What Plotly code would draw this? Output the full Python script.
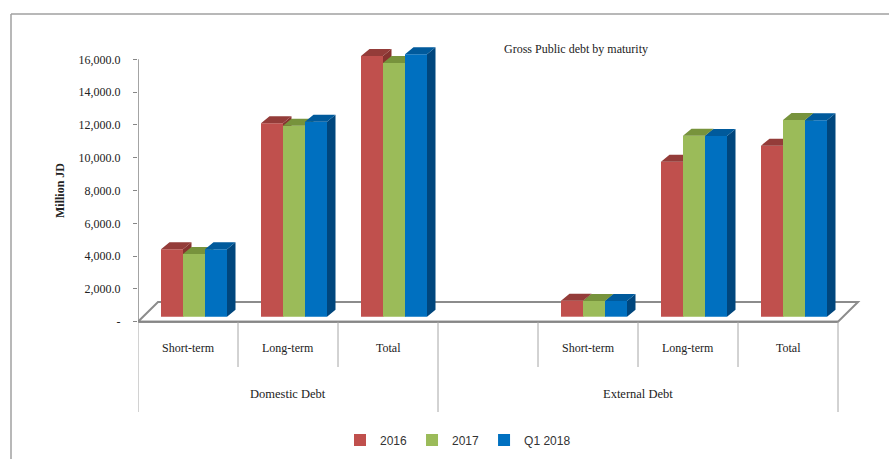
import plotly.graph_objects as go

# ---------------- data ----------------
categories = ["Short-term", "Long-term", "Total", "", "Short-term", "Long-term", "Total"]
group_names = ["Domestic Debt", "External Debt"]
group_spans = [(0, 2), (3, 6)]          # category index spans of each group
series_names = ["2016", "2017", "Q1 2018"]
values_2016 = [4110, 11790, 15900, None, 980, 9450, 10430]
values_2017 = [3820, 11650, 15470, None, 960, 11040, 12000]
values_q1_2018 = [4110, 11890, 16000, None, 960, 11020, 11980]
y_tickvals = [0, 2000, 4000, 6000, 8000, 10000, 12000, 14000, 16000]
y_ticktext = ["-", "2,000.0", "4,000.0", "6,000.0", "8,000.0", "10,000.0",
              "12,000.0", "14,000.0", "16,000.0"]
title_text = "Gross Public debt by maturity"
y_title = "Million JD"

# ---------------- styles / geometry ----------------
W, H = 889, 459
ML, MR, MT, MB = 138, 19, 14, 0
plot_w = W - ML - MR
plot_h = H - MT - MB
X_PER_PX = 1 / 100.0
Y_PER_PX = 1000 / 16.4
ZERO_PX = 321.7
y_top = (ZERO_PX - MT) * Y_PER_PX
y_bot = -(H - MB - ZERO_PX) * Y_PER_PX
x_range = [-0.5, -0.5 + plot_w * X_PER_PX]

def ydata(px):
    return (ZERO_PX - px) * Y_PER_PX

def xpaper(px):
    return (px - ML) / plot_w

def ypaper(px):
    return (H - MB - px) / plot_h

BASE = 5 * Y_PER_PX
DX = 8.5 * X_PER_PX
DY = 7 * Y_PER_PX
BAR_W = 0.22
offsets = [-0.27, -0.05, 0.17]
front_colors = ["#C0504D", "#9BBB59", "#0070C0"]
top_colors = ["#943C39", "#77933C", "#005A9C"]
side_colors = ["#86332F", "#6A8534", "#00467D"]
serif = "Liberation Serif"
sans = "Liberation Sans"
gray = "#868686"
light = "#A6A6A6"

all_values = [values_2016, values_2017, values_q1_2018]

fig = go.Figure()

for i, (name, vals) in enumerate(zip(series_names, all_values)):
    xa = "x" if i == 0 else f"x{i+1}"
    ya = "y" if i == 0 else f"y{i+1}"
    xs = [k for k, v in enumerate(vals) if v is not None]
    ys = [v for v in vals if v is not None]
    fig.add_trace(go.Bar(
        x=xs, y=ys, base=BASE, width=BAR_W, offset=offsets[i], name=name,
        marker=dict(color=front_colors[i], line=dict(width=0)),
        xaxis=xa, yaxis=ya, showlegend=True))
    tx, ty, sx, sy = [], [], [], []
    for k, v in zip(xs, ys):
        xl = k + offsets[i]
        xr = xl + BAR_W
        t = BASE + v
        tx += [xl, xl + DX, xr + DX, xr, xl, None]
        ty += [t, t + DY, t + DY, t, t, None]
        sx += [xr, xr, xr + DX, xr + DX, xr, None]
        sy += [BASE, t, t + DY, BASE + DY, BASE, None]
    fig.add_trace(go.Scatter(
        x=sx, y=sy, mode="lines", fill="toself", fillcolor=side_colors[i],
        line=dict(width=0, color=side_colors[i]), hoverinfo="skip",
        showlegend=False, xaxis=xa, yaxis=ya))
    fig.add_trace(go.Scatter(
        x=tx, y=ty, mode="lines", fill="toself", fillcolor=top_colors[i],
        line=dict(width=0, color=top_colors[i]), hoverinfo="skip",
        showlegend=False, xaxis=xa, yaxis=ya))

shapes = []
n = len(categories)
floor_depth = ydata(302)
floor_dx = 20 * X_PER_PX
# floor
shapes.append(dict(type="path", xref="x", yref="y", layer="below",
                   path=f"M-0.5,0 L{n-0.5},0 L{n-0.5+floor_dx},{floor_depth} "
                        f"L{-0.5+floor_dx},{floor_depth} Z",
                   fillcolor="white", line=dict(color="#8C8C8C", width=2)))
# y axis line
shapes.append(dict(type="line", xref="x", yref="y", x0=-0.5, x1=-0.5,
                   y0=0, y1=y_tickvals[-1], line=dict(color=gray, width=1.5)))
# category axis line
shapes.append(dict(type="line", xref="x", yref="y", x0=-0.5, x1=n - 0.5,
                   y0=0, y1=0, line=dict(color=gray, width=2)))
# category tick lines
group_edges = set()
for a, b in group_spans:
    group_edges.add(a - 0.5)
    group_edges.add(b + 0.5)
for k in range(n + 1):
    xv = k - 0.5
    y1 = ydata(412) if xv in group_edges else ydata(367)
    shapes.append(dict(type="line", xref="x", yref="y", x0=xv, x1=xv,
                       y0=0, y1=y1, line=dict(color=light, width=1)))
# outer chart border (top and left)
shapes.append(dict(type="line", xref="paper", yref="paper",
                   x0=xpaper(11), x1=xpaper(W + 20), y0=ypaper(14), y1=ypaper(14),
                   line=dict(color="#A0A0A0", width=1.5)))
shapes.append(dict(type="line", xref="paper", yref="paper",
                   x0=xpaper(11), x1=xpaper(11), y0=ypaper(14), y1=ypaper(H + 20),
                   line=dict(color="#A0A0A0", width=1.5)))

annotations = []
for k, c in enumerate(categories):
    if c:
        annotations.append(dict(x=k, y=ydata(348), xref="x", yref="y", text=c,
                                showarrow=False, xanchor="center",
                                font=dict(family=serif, size=12, color="#222")))
for g, (a, b) in zip(group_names, group_spans):
    annotations.append(dict(x=(a + b) / 2, y=ydata(394), xref="x", yref="y", text=g,
                            showarrow=False, xanchor="center",
                            font=dict(family=serif, size=12.5, color="#222")))
annotations.append(dict(x=xpaper(576), y=ypaper(40), xref="paper", yref="paper",
                        text=title_text, showarrow=False, xanchor="center",
                        font=dict(family=serif, size=12, color="#222")))
annotations.append(dict(x=xpaper(60), y=ydata(191), xref="paper", yref="y",
                        text=f"<b>{y_title}</b>", textangle=-90, showarrow=False,
                        xanchor="center", yanchor="middle",
                        font=dict(family=serif, size=12, color="#222")))

axis_hidden = dict(range=x_range, visible=False, fixedrange=True)
yaxis_hidden = dict(range=[y_bot, y_top], visible=False, fixedrange=True)

fig.update_layout(
    width=W, height=H,
    margin=dict(l=ML, r=MR, t=MT, b=MB, autoexpand=False),
    paper_bgcolor="white", plot_bgcolor="white",
    barmode="overlay",
    xaxis=dict(range=x_range, visible=False, fixedrange=True),
    yaxis=dict(range=[y_bot, y_top], tickvals=y_tickvals, ticktext=y_ticktext,
               ticks="outside", ticklen=4, tickcolor=gray, tickwidth=1,
               showgrid=False, zeroline=False, showline=False,
               ticklabelstandoff=10,
               tickfont=dict(family=serif, size=12, color="#222")),
    xaxis2=dict(axis_hidden, overlaying="x"),
    yaxis2=dict(yaxis_hidden, overlaying="y"),
    xaxis3=dict(axis_hidden, overlaying="x"),
    yaxis3=dict(yaxis_hidden, overlaying="y"),
    showlegend=True,
    legend=dict(orientation="h", x=xpaper(458), xanchor="center",
                y=ypaper(440), yanchor="middle", bgcolor="rgba(0,0,0,0)",
                font=dict(family=sans, size=12, color="#333")),
    shapes=shapes, annotations=annotations,
)

fig.write_html("out.html")
